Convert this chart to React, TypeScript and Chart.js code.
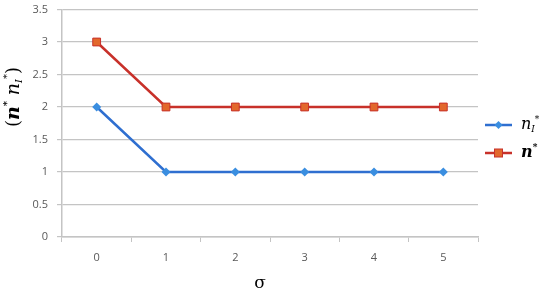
import React, { useEffect, useRef } from "react";
import { Chart, registerables } from "chart.js";

Chart.register(...registerables);

const categories = ["0", "1", "2", "3", "4", "5"];
const nIStar = [2, 1, 1, 1, 1, 1];
const nStar = [3, 2, 2, 2, 2, 2];
const yMin = 0;
const yMax = 3.5;
const yStep = 0.5;
const xTitle = "σ";

const BLUE_LINE = "#2f6fd0";
const BLUE_MARK = "#3a8ee0";
const RED_LINE = "#c8312a";
const RED_MARK = "#e2682c";
const GRID = "#c4c4c4";
const TICK_TEXT = "#595959";

type Part = { text: string; font: string; dy?: number };

function richWidth(ctx: CanvasRenderingContext2D, parts: Part[]) {
  let w = 0;
  for (const p of parts) {
    ctx.font = p.font;
    w += ctx.measureText(p.text).width;
  }
  return w;
}

function drawRich(ctx: CanvasRenderingContext2D, parts: Part[], x: number, y: number) {
  let cx = x;
  for (const p of parts) {
    ctx.font = p.font;
    ctx.fillText(p.text, cx, y + (p.dy || 0));
    cx += ctx.measureText(p.text).width;
  }
}

const SERIF = '"DejaVu Serif", "Liberation Serif", serif';

const nIParts = (size: number): Part[] => [
  { text: "n", font: `italic ${size}px ${SERIF}` },
  { text: "I", font: `italic ${Math.round(size * 0.55)}px ${SERIF}`, dy: size * 0.3 },
  { text: "*", font: `${Math.round(size * 0.55)}px ${SERIF}`, dy: -size * 0.35 },
];
const nParts = (size: number): Part[] => [
  { text: "n", font: `bold italic ${size}px ${SERIF}` },
  { text: "*", font: `bold ${Math.round(size * 0.55)}px ${SERIF}`, dy: -size * 0.35 },
];

const overlay = {
  id: "overlay",
  afterDraw(chart: any) {
    const ctx: CanvasRenderingContext2D = chart.ctx;
    ctx.save();
    ctx.fillStyle = "#000";
    ctx.textBaseline = "middle";
    ctx.textAlign = "left";

    // Y axis title
    const yParts: Part[] = [
      { text: "(", font: `18px ${SERIF}` },
      ...nParts(19),
      { text: " ", font: `18px ${SERIF}` },
      ...nIParts(19),
      { text: ")", font: `18px ${SERIF}` },
    ];
    const w = richWidth(ctx, yParts);
    ctx.save();
    ctx.translate(14, 97);
    ctx.rotate(-Math.PI / 2);
    drawRich(ctx, yParts, -w / 2, 0);
    ctx.restore();

    // X axis title
    ctx.font = `17px ${SERIF}`;
    ctx.textAlign = "center";
    ctx.fillText(xTitle, 260, 284);
    ctx.textAlign = "left";

    // Legend
    const items = [
      { y: 125, line: BLUE_LINE, mark: BLUE_MARK, shape: "diamond", parts: nIParts(16) },
      { y: 153, line: RED_LINE, mark: RED_MARK, shape: "square", parts: nParts(16) },
    ];
    for (const it of items) {
      ctx.strokeStyle = it.line;
      ctx.lineWidth = 2.5;
      ctx.beginPath();
      ctx.moveTo(485, it.y);
      ctx.lineTo(512, it.y);
      ctx.stroke();
      ctx.fillStyle = it.mark;
      if (it.shape === "diamond") {
        ctx.beginPath();
        ctx.moveTo(498.5, it.y - 4);
        ctx.lineTo(502.5, it.y);
        ctx.lineTo(498.5, it.y + 4);
        ctx.lineTo(494.5, it.y);
        ctx.closePath();
        ctx.fill();
      } else {
        ctx.fillRect(494.5, it.y - 4, 8, 8);
        ctx.strokeStyle = it.line;
        ctx.lineWidth = 1;
        ctx.strokeRect(494.5, it.y - 4, 8, 8);
      }
      ctx.fillStyle = "#000";
      drawRich(ctx, it.parts, 521, it.y);
    }
    ctx.restore();
  },
};

export default function App() {
  const ref = useRef<HTMLCanvasElement | null>(null);
  useEffect(() => {
    document.body.style.margin = "0";
    const canvas = ref.current!;
    const chart = new Chart(canvas, {
      type: "line",
      data: {
        labels: categories,
        datasets: [
          {
            label: "nI*",
            data: nIStar,
            borderColor: BLUE_LINE,
            backgroundColor: BLUE_MARK,
            borderWidth: 2.5,
            pointStyle: "rectRot",
            pointRadius: 4.5,
            pointBorderWidth: 0,
            pointBackgroundColor: BLUE_MARK,
            tension: 0,
          },
          {
            label: "n*",
            data: nStar,
            borderColor: RED_LINE,
            backgroundColor: RED_MARK,
            borderWidth: 2.5,
            pointStyle: "rect",
            pointRadius: 5.5,
            pointBorderWidth: 1,
            pointBorderColor: RED_LINE,
            pointBackgroundColor: RED_MARK,
            tension: 0,
          },
        ],
      },
      options: {
        responsive: false,
        animation: false,
        layout: { padding: { top: 9.5, right: 72, left: 0, bottom: 0 } },
        plugins: {
          legend: { display: false },
          tooltip: { enabled: false },
        },
        scales: {
          x: {
            offset: true,
            grid: {
              offset: true,
              drawOnChartArea: false,
              drawTicks: true,
              tickLength: 5,
              color: GRID,
            },
            border: { color: GRID, width: 1.5 },
            ticks: {
              color: TICK_TEXT,
              font: { family: '"Open Sans", sans-serif', size: 11 },
              padding: 9,
              maxRotation: 0,
            },
            afterFit: (scale: any) => {
              scale.height = 59;
              scale.paddingLeft = 0;
              scale.paddingRight = 0;
            },
          },
          y: {
            min: yMin,
            max: yMax,
            grid: { color: GRID, lineWidth: 1.2, tickLength: 5 },
            border: { color: GRID, width: 1.5 },
            ticks: {
              stepSize: yStep,
              color: TICK_TEXT,
              font: { family: '"Open Sans", sans-serif', size: 11 },
              padding: 9,
              callback: (v: any) => String(Number(v)),
            },
            afterFit: (scale: any) => {
              scale.width = 62;
              scale.paddingTop = 0;
              scale.paddingBottom = 0;
            },
          },
        },
      },
      plugins: [overlay],
    });
    return () => chart.destroy();
  }, []);
  return (
    <div style={{ width: 550, height: 296 }}>
      <canvas ref={ref} width={550} height={296} style={{ display: "block" }} />
    </div>
  );
}
